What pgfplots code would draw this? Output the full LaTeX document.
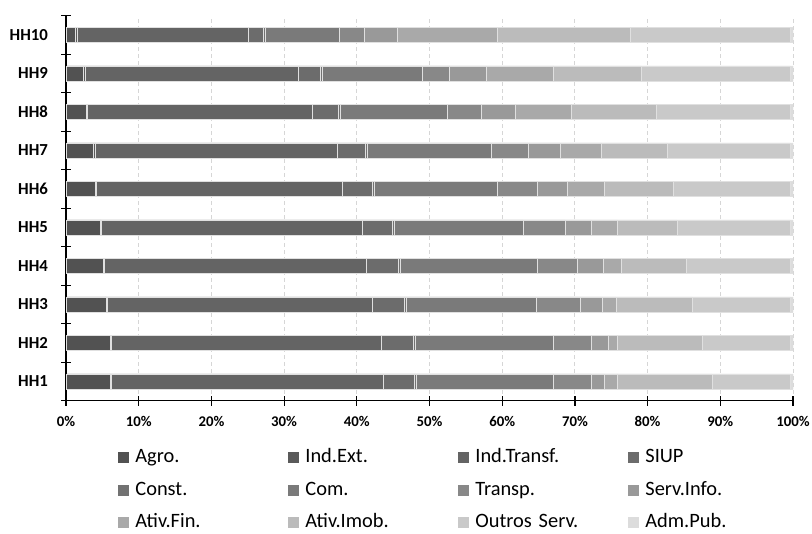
\documentclass[border=0pt]{standalone}
\usepackage{pgfplots}
\pgfplotsset{compat=1.18}
\usepackage{pgfplotstable}
\usepackage{fontspec}
\setmainfont{Carlito}

% grey ramp, darkest first
\definecolor{cAgro}{HTML}{525252}
\definecolor{cIndExt}{HTML}{5A5A5A}
\definecolor{cIndTransf}{HTML}{646464}
\definecolor{cSIUP}{HTML}{6C6C6C}
\definecolor{cConst}{HTML}{727272}
\definecolor{cCom}{HTML}{7A7A7A}
\definecolor{cTransp}{HTML}{888888}
\definecolor{cServInfo}{HTML}{999999}
\definecolor{cAtivFin}{HTML}{A9A9A9}
\definecolor{cAtivImob}{HTML}{BBBBBB}
\definecolor{cOutros}{HTML}{C9C9C9}
\definecolor{cAdmPub}{HTML}{DCDCDC}

% shares (%) by household group
\pgfplotstableread{
y  agro indext indtransf siup const com  transp servinfo ativfin ativimob outros admpub
1  6.05 0.2    37.45     4.2  0.3   18.8 5.2    1.9      1.8     13.0     10.7   0.4
2  6.05 0.2    37.15     4.4  0.3   18.9 5.3    2.3      1.3     11.6     12.1   0.4
3  5.5  0.2    36.4      4.4  0.3   17.9 6.1    3.0      1.9     10.5     13.4   0.4
4  5.1  0.2    36.0      4.4  0.3   18.8 5.6    3.5      2.5     8.9      14.3   0.4
5  4.7  0.2    35.9      4.1  0.3   17.7 5.8    3.6      3.5     8.3      15.5   0.4
6  4.0  0.2    33.8      4.1  0.3   16.9 5.5    4.1      5.1     9.6      16.0   0.4
7  3.8  0.2    33.3      3.9  0.3   17.0 5.1    4.4      5.6     9.1      16.9   0.4
8  2.75 0.2    30.95     3.5  0.3   14.7 4.7    4.7      7.7     11.7     18.4   0.4
9  2.4  0.2    29.4      3.0  0.3   13.7 3.8    5.0      9.3     12.0     20.5   0.4
10 1.3  0.2    23.6      2.0  0.3   10.2 3.5    4.5      13.7    18.4     21.9   0.4
}\dados

\begin{document}
\begin{tikzpicture}
\useasboundingbox (0,0) rectangle (406pt,267pt);
\begin{axis}[
  at={(33pt,66.65pt)}, anchor=south west,
  scale only axis, width=363.5pt, height=192.5pt,
  xbar stacked, bar width=7.5pt,
  xmin=0, xmax=100, ymin=0.5, ymax=10.5,
  axis x line*=bottom, axis y line*=left,
  axis line style={-, black, line width=0.6pt},
  xtick={0,10,...,100},
  xticklabels={0\%,10\%,20\%,30\%,40\%,50\%,60\%,70\%,80\%,90\%,100\%},
  xticklabel style={font=\bfseries\fontsize{7.4}{9}\selectfont, yshift=-2pt},
  xmajorgrids,
  major x grid style={draw=black!16, line width=0.5pt, dash pattern=on 2pt off 1.5pt},
  ytick={0.5,1.5,...,10.5}, yticklabels={},
  extra y ticks={1,2,...,10},
  extra y tick labels={HH1,HH2,HH3,HH4,HH5,HH6,HH7,HH8,HH9,HH10},
  extra y tick style={major tick length=0pt, grid=none,
    yticklabel style={font=\bfseries\fontsize{8.4}{10}\selectfont, xshift=-5.5pt}},
  tick align=center, major tick length=5pt,
  tick style={black, line width=0.6pt},
  legend columns=4,
  legend image code/.code={\fill[#1, draw=none] (0pt,-2.75pt) rectangle (5.5pt,2.75pt);},
  legend style={
    at={(axis description cs:0.0715,-0.124)}, anchor=north west,
    draw=none, fill=none, inner sep=0pt, row sep=7.2pt,
    font=\fontsize{10.2}{12}\selectfont,
    nodes={inner sep=0pt, text width=76.5pt, text height=7pt, text depth=2pt},
    /tikz/every odd column/.append style={column sep=3pt},
    /tikz/every even column/.append style={column sep=0pt},
  },
  legend cell align=left,
  every axis plot/.append style={draw=black!12, line width=0.4pt},
]
\addplot[fill=cAgro]      table[x=agro,y=y]      {\dados};
\addplot[fill=cIndExt]    table[x=indext,y=y]    {\dados};
\addplot[fill=cIndTransf] table[x=indtransf,y=y] {\dados};
\addplot[fill=cSIUP]      table[x=siup,y=y]      {\dados};
\addplot[fill=cConst]     table[x=const,y=y]     {\dados};
\addplot[fill=cCom]       table[x=com,y=y]       {\dados};
\addplot[fill=cTransp]    table[x=transp,y=y]    {\dados};
\addplot[fill=cServInfo]  table[x=servinfo,y=y]  {\dados};
\addplot[fill=cAtivFin]   table[x=ativfin,y=y]   {\dados};
\addplot[fill=cAtivImob]  table[x=ativimob,y=y]  {\dados};
\addplot[fill=cOutros]    table[x=outros,y=y]    {\dados};
\addplot[fill=cAdmPub]    table[x=admpub,y=y]    {\dados};
\legend{Agro.,Ind.Ext.,Ind.Transf.,SIUP,Const.,Com.,Transp.,Serv.Info.,Ativ.Fin.,Ativ.Imob.,Outros Serv.,Adm.Pub.}
\end{axis}
\end{tikzpicture}
\end{document}
